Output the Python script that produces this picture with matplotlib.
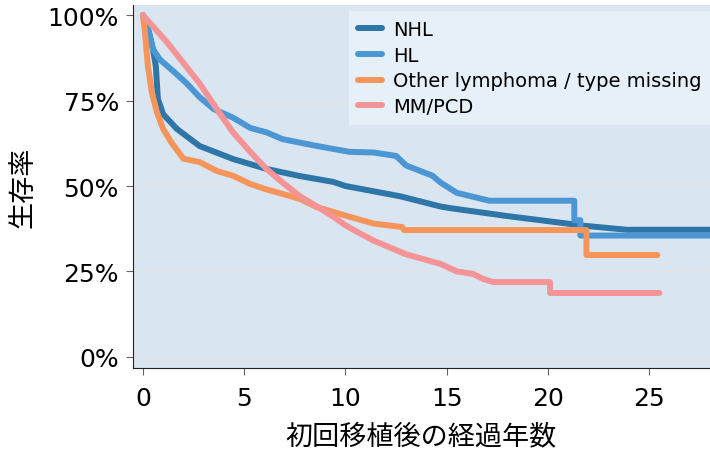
import matplotlib
matplotlib.use("Agg")
import matplotlib.pyplot as plt
from matplotlib.ticker import PercentFormatter

plt.rcParams['font.family'] = ['DejaVu Sans', 'Noto Sans CJK JP']

# survival curves (years, fraction alive)
nhl_t = [0, 0.3, 0.5, 0.64, 0.74, 1.0, 1.68, 2.8, 4.45, 6.1, 7.76, 9.4, 10.0, 12.7,
         14.7, 15.2, 18.0, 21.1, 21.9, 23.9, 28.0]
nhl_s = [1.0, 0.95, 0.90, 0.85, 0.755, 0.71, 0.667, 0.617, 0.579, 0.55, 0.529, 0.512,
         0.50, 0.47, 0.44, 0.435, 0.412, 0.389, 0.383, 0.372, 0.372]

hl_t = [0, 0.25, 0.5, 0.84, 1.5, 2.17, 2.8, 3.5, 4.45, 5.3, 6.1, 6.9, 8.6, 10.2,
        11.4, 12.5, 13.0, 14.3, 14.7, 15.5, 17.1, 21.3, 21.3, 21.6, 21.6, 28.0]
hl_s = [1.0, 0.96, 0.90, 0.87, 0.836, 0.80, 0.76, 0.725, 0.70, 0.67, 0.657, 0.637,
        0.617, 0.60, 0.598, 0.588, 0.56, 0.53, 0.51, 0.48, 0.457, 0.457, 0.40, 0.40,
        0.355, 0.355]

oth_t = [0, 0.1, 0.25, 0.44, 0.69, 1.0, 1.4, 2.0, 2.8, 3.65, 4.45, 5.3, 6.1, 6.9,
         7.76, 8.6, 9.4, 10.2, 11.4, 12.8, 12.9, 21.9, 21.9, 25.4]
oth_s = [1.0, 0.95, 0.85, 0.775, 0.716, 0.667, 0.628, 0.58, 0.57, 0.544, 0.53, 0.506,
         0.49, 0.477, 0.462, 0.438, 0.424, 0.41, 0.39, 0.38, 0.371, 0.371, 0.298, 0.298]

mm_t = [0, 1.2, 2.8, 3.65, 4.45, 5.3, 6.1, 6.9, 7.76, 8.6, 9.4, 10.0, 10.6, 11.4,
        12.2, 13.0, 13.8, 14.7, 15.5, 16.3, 16.8, 17.3, 20.1, 20.1, 25.5]
mm_s = [1.0, 0.92, 0.80, 0.725, 0.657, 0.60, 0.55, 0.51, 0.47, 0.44, 0.41, 0.385,
        0.365, 0.34, 0.32, 0.30, 0.287, 0.272, 0.25, 0.243, 0.228, 0.219, 0.219,
        0.187, 0.187]

labels = ["NHL", "HL", "Other lymphoma / type missing", "MM/PCD"]
colors = ["#2e75a8", "#4c97d3", "#f5955a", "#f59496"]

fig = plt.figure(figsize=(7.1, 4.52), dpi=100)
ax = fig.add_axes([0.187, 0.184, 0.813, 0.803])
ax.set_facecolor("#d9e6f1")

for t, s, lab, c in zip([nhl_t, hl_t, oth_t, mm_t], [nhl_s, hl_s, oth_s, mm_s],
                        labels, colors):
    ax.plot(t, s, color=c, lw=4.3, label=lab, solid_capstyle='round',
            solid_joinstyle='round')

ax.set_xlim(-0.5, 28)
ax.set_ylim(-0.032, 1.03)
ax.set_yticks([0, 0.25, 0.5, 0.75, 1.0])
ax.set_xticks([0, 5, 10, 15, 20, 25])
ax.yaxis.set_major_formatter(PercentFormatter(1.0, decimals=0))
ax.grid(axis='y', color="#e2e2e2", lw=1)
ax.set_axisbelow(True)

for sp in ["top", "right"]:
    ax.spines[sp].set_visible(False)
for sp in ["left", "bottom"]:
    ax.spines[sp].set_color("#222222")
ax.tick_params(labelsize=18, length=5, color="#666666")
ax.tick_params(axis='x', pad=8)
ax.tick_params(axis='y', pad=5)

ax.set_xlabel("初回移植後の経過年数", fontsize=19.5, labelpad=10)
ax.set_ylabel("生存率", fontsize=19.5, labelpad=8)

leg = ax.legend(loc='upper right', bbox_to_anchor=(1.0, 0.983), borderaxespad=0,
                fontsize=14, handlelength=1.24, handletextpad=0.57, labelspacing=0.35,
                frameon=True, fancybox=False, facecolor="#e6f0f8", edgecolor="none",
                framealpha=1, borderpad=0.45)

fig.savefig("out.png", dpi=100)
